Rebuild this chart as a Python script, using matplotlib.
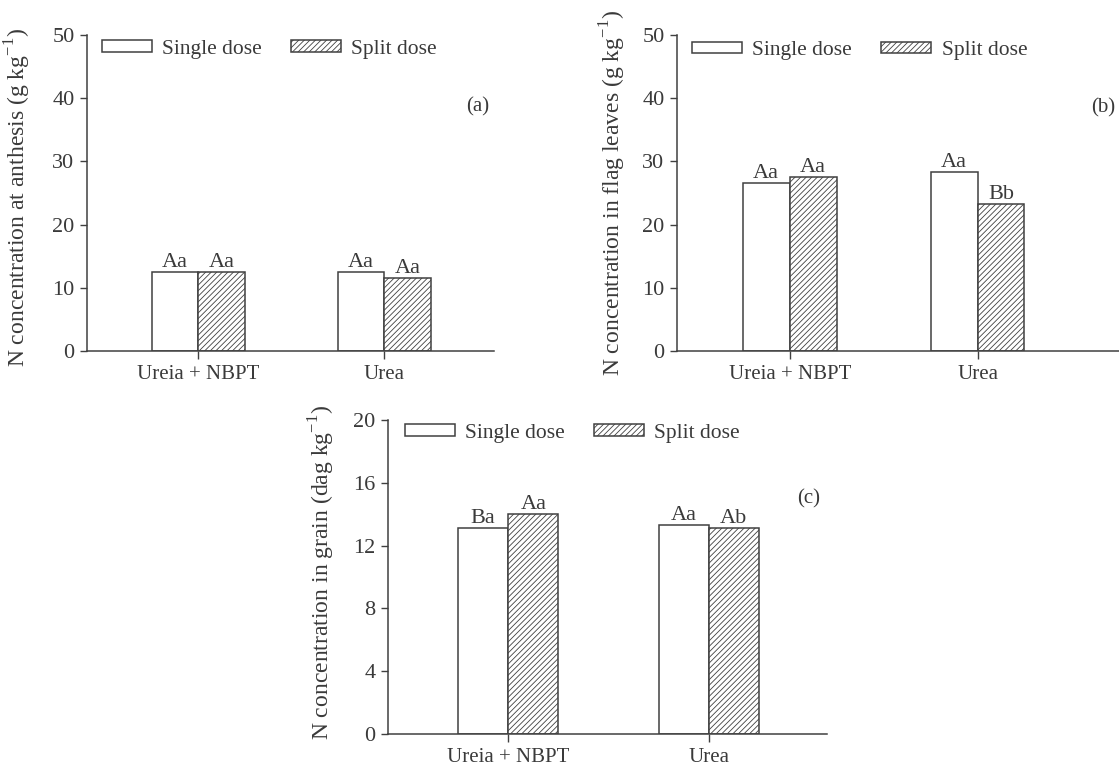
import matplotlib
matplotlib.use('Agg')
import matplotlib.pyplot as plt
import numpy as np

plt.rcParams['font.family'] = ['Liberation Serif', 'DejaVu Serif']
plt.rcParams['mathtext.fontset'] = 'custom'
plt.rcParams['mathtext.rm'] = 'Liberation Serif'
plt.rcParams['hatch.linewidth'] = 0.6
plt.rcParams['hatch.color'] = '#404040'

# data
sources = ['Ureia + NBPT', 'Urea']
series = ['Single dose', 'Split dose']

anthesis_single = [12.5, 12.5]
anthesis_split = [12.5, 11.6]
anthesis_letters_single = ['Aa', 'Aa']
anthesis_letters_split = ['Aa', 'Aa']

flag_single = [26.6, 28.3]
flag_split = [27.5, 23.3]
flag_letters_single = ['Aa', 'Aa']
flag_letters_split = ['Aa', 'Bb']

grain_single = [13.1, 13.3]
grain_split = [14.0, 13.15]
grain_letters_single = ['Ba', 'Aa']
grain_letters_split = ['Aa', 'Ab']

txt = '#3a3a3a'
edge = '#404040'
fs = 15

fig = plt.figure(figsize=(11.19, 7.65), dpi=100)
ax_a = fig.add_axes([0.0777, 0.5412, 0.3637, 0.413])
ax_b = fig.add_axes([0.605, 0.5412, 0.3995, 0.413])
ax_c = fig.add_axes([0.3467, 0.0405, 0.3923, 0.4105])


def panel(ax, single, split, lab_s, lab_p, ymax, step, ylabel, tag, tag_xy,
          xmax, ylab_xy, leg_xy):
    x = np.arange(len(sources))
    w = 0.25
    b1 = ax.bar(x - w / 2, single, w, color='white', edgecolor=edge,
                linewidth=1.1, label=series[0])
    b2 = ax.bar(x + w / 2, split, w, color='white', edgecolor=edge,
                linewidth=1.1, hatch='//////', label=series[1])
    for bars, labs in ((b1, lab_s), (b2, lab_p)):
        for r, t in zip(bars, labs):
            ax.annotate(t, (r.get_x() + r.get_width() / 2, r.get_height()),
                        xytext=(0, 0), textcoords='offset points',
                        ha='center', va='bottom', fontsize=16, color=txt)
    ax.set_xlim(-0.6, xmax)
    ax.set_ylim(0, ymax)
    ax.set_yticks(np.arange(0, ymax + step / 2, step))
    ax.set_xticks(x)
    ax.set_xticklabels(sources)
    for s in ['top', 'right']:
        ax.spines[s].set_visible(False)
    for s in ['left', 'bottom']:
        ax.spines[s].set_color(edge)
        ax.spines[s].set_linewidth(1.1)
    ax.tick_params(axis='y', length=5, width=1, color=edge, labelsize=16,
                   labelcolor=txt, pad=4)
    ax.tick_params(axis='x', length=6, width=1, color=edge, labelsize=fs,
                   labelcolor=txt, pad=4)
    ax.set_ylabel(ylabel, fontsize=17, color=txt)
    ax.yaxis.set_label_coords(*ylab_xy)
    ax.text(tag_xy[0], tag_xy[1], tag, ha='center', va='center',
            fontsize=fs, color=txt)
    ax.legend(loc='center left', bbox_to_anchor=leg_xy, ncol=2,
              frameon=False, fontsize=fs + 0.5, borderpad=0, borderaxespad=0,
              handlelength=2.3, handleheight=0.42, handletextpad=0.5,
              columnspacing=1.35, labelcolor=txt)


panel(ax_a, anthesis_single, anthesis_split, anthesis_letters_single,
      anthesis_letters_split, 50, 10,
      'N concentration at anthesis (g kg$^{-1}$)', '(a)', (1.5, 38.6),
      1.59, (-0.133, 0.485), (0.037, 0.955))
panel(ax_b, flag_single, flag_split, flag_letters_single, flag_letters_split,
      50, 10, 'N concentration in flag leaves (g kg$^{-1}$)', '(b)',
      (1.67, 38.5), 1.78, (-0.11, 0.5), (0.034, 0.95))
panel(ax_c, grain_single, grain_split, grain_letters_single,
      grain_letters_split, 20, 4,
      'N concentration in grain (dag kg$^{-1}$)', '(c)', (1.5, 15.0),
      1.59, (-0.116, 0.513), (0.039, 0.958))

fig.savefig('out.png', dpi=100)
